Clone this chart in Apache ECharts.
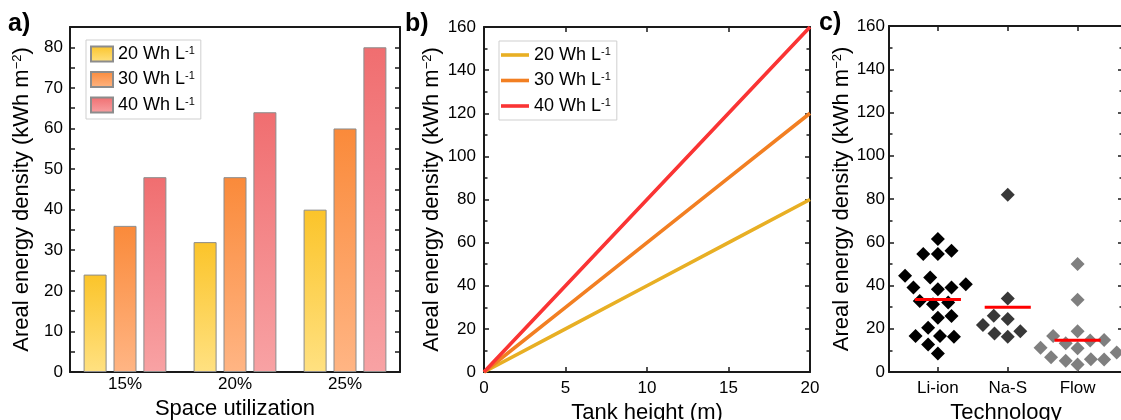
<!DOCTYPE html>
<html><head><meta charset="utf-8">
<script src="https://cdn.jsdelivr.net/npm/echarts@6/dist/echarts.min.js"></script>
<style>html,body{margin:0;padding:0;background:#fff}#c{width:1121px;height:420px}</style>
</head><body><div id="c"></div>
<script>
// ---------- data ----------
// panel a
const spaceUtil = ['15%', '20%', '25%'];
const densityNames = ['20 Wh L-1', '30 Wh L-1', '40 Wh L-1'];
const bar20 = [24, 32, 40];
const bar30 = [36, 48, 60];
const bar40 = [48, 64, 80];
// panel b
const tankHeight = [0, 5, 10, 15, 20];
const line20 = [0, 20, 40, 60, 80];
const line30 = [0, 30, 60, 90, 120];
const line40 = [0, 40, 80, 120, 160];
// panel c (x = category index + swarm offset)
const techCats = ['Li-ion', 'Na-S', 'Flow'];
const liIonX = [1.00, 0.79, 1.00, 1.195, 0.53, 0.89, 0.65, 1.00, 1.195, 1.40, 0.74, 0.93, 1.147, 1.00, 1.195, 0.86, 0.68, 1.03, 1.23, 0.86, 1.00];
const liIonY = [61.5, 54.6, 54.6, 56.1, 44.5, 43.7, 39.1, 38.3, 39.1, 40.6, 32.8, 31.3, 32.1, 25.1, 25.9, 20.5, 16.6, 16.6, 16.3, 12.7, 8.5];
const naSX = [2.00, 2.00, 1.80, 2.00, 1.645, 1.81, 2.00, 2.18];
const naSY = [82, 34, 26, 24.5, 21.7, 17.8, 16.3, 18.9];
const flowX = [3.00, 3.00, 3.00, 2.65, 2.83, 3.18, 3.38, 2.47, 3.00, 3.56, 2.62, 2.83, 3.19, 3.38, 3.00];
const flowY = [50, 33.4, 18.9, 16.6, 13.3, 14.6, 14.8, 11.2, 11.0, 9.0, 6.8, 5.2, 5.9, 5.8, 3.5];
const techMeans = [33.5, 30, 14.7];
const yTicksA = [0, 10, 20, 30, 40, 50, 60, 70, 80];

// ---------- styles ----------
const FONT = 'Liberation Sans, Arial, Helvetica, sans-serif';
const AX = '#1a1a1a';
const supRich = { s: { fontSize: 11, verticalAlign: 'top', fontFamily: FONT, color: '#000', lineHeight: 11 } };
const nameRich = { s: { fontSize: 13, verticalAlign: 'top', fontFamily: FONT, color: '#000', lineHeight: 13 } };
function supName(n) { return n.replace(/L-1$/, 'L{s|-1}'); }
const yName = 'Areal energy density (kWh m{s|\u22122})';

function grad(top, bottom) {
  return new echarts.graphic.LinearGradient(0, 0, 0, 1, [{ offset: 0, color: top }, { offset: 1, color: bottom }]);
}
const lineAx = { show: true, onZero: false, lineStyle: { color: AX, width: 2 } };
const tickIn = (len) => ({ show: true, inside: true, length: len, lineStyle: { color: AX, width: 1.5 } });
const minorIn = { show: true, splitNumber: 2, length: 3.5, lineStyle: { color: AX, width: 1.5 } };
const lbl = (margin) => ({ color: '#000', fontSize: 17, fontFamily: FONT, margin: margin });
const nameStyle = { color: '#000', fontSize: 22, fontFamily: FONT, rich: nameRich };
const lineColors = ['#e8af24', '#f27f22', '#fa3434'];

const option = {
  animation: false,
  backgroundColor: '#fff',
  textStyle: { fontFamily: FONT },
  grid: [
    { left: 70, top: 27, width: 330, height: 345, outerBoundsMode: 'none', containLabel: false },
    { left: 484, top: 27, width: 326, height: 345, outerBoundsMode: 'none', containLabel: false },
    { left: 889, top: 26, width: 234, height: 346, outerBoundsMode: 'none', containLabel: false }
  ],
  legend: [
    {
      left: 86, top: 40, orient: 'vertical', itemWidth: 22, itemHeight: 15, itemGap: 7.5,
      padding: [5, 6, 5, 4], borderColor: '#cfcfcf', borderWidth: 1, icon: 'rect',
      data: densityNames.map(n => ({ name: n })),
      formatter: supName,
      textStyle: { color: '#000', fontSize: 18, fontFamily: FONT, rich: supRich },
      selectedMode: false
    },
    {
      left: 499, top: 41, orient: 'vertical', itemWidth: 28, itemHeight: 3.6, itemGap: 7.5,
      padding: [5, 6, 5, 2], borderColor: '#cfcfcf', borderWidth: 1, icon: 'rect',
      data: densityNames.map((n, i) => ({ name: n + ' ', itemStyle: { color: lineColors[i], borderWidth: 0 } })),
      formatter: (n) => supName(n.trim()),
      textStyle: { color: '#000', fontSize: 18, fontFamily: FONT, rich: supRich },
      selectedMode: false
    }
  ],
  xAxis: [
    { gridIndex: 0, type: 'category', data: spaceUtil, position: 'bottom', axisLine: lineAx,
      axisTick: { show: false }, axisLabel: lbl(4), splitLine: { show: false },
      name: 'Space utilization', nameLocation: 'middle', nameGap: 19, nameTextStyle: nameStyle },
    { gridIndex: 0, type: 'category', data: spaceUtil, position: 'top', axisLine: lineAx,
      axisTick: { show: false }, axisLabel: { show: false }, splitLine: { show: false } },
    { gridIndex: 1, type: 'value', min: 0, max: 20, interval: 5, position: 'bottom', axisLine: lineAx,
      axisTick: tickIn(5), axisLabel: lbl(8), splitLine: { show: false },
      name: 'Tank height (m)', nameLocation: 'middle', nameGap: 28, nameTextStyle: nameStyle },
    { gridIndex: 1, type: 'value', min: 0, max: 20, interval: 5, position: 'top', axisLine: lineAx,
      axisTick: tickIn(5), axisLabel: { show: false }, splitLine: { show: false } },
    { gridIndex: 2, type: 'value', min: 0.3, max: 3.65, position: 'bottom', axisLine: lineAx,
      axisTick: Object.assign(tickIn(5), { customValues: [1, 2, 3] }),
      axisLabel: Object.assign(lbl(8), { customValues: [1, 2, 3], formatter: (v) => techCats[Math.round(v) - 1] || '' }),
      splitLine: { show: false },
      name: 'Technology', nameLocation: 'middle', nameGap: 27, nameTextStyle: nameStyle },
    { gridIndex: 2, type: 'value', min: 0.3, max: 3.65, position: 'top', axisLine: lineAx,
      axisTick: Object.assign(tickIn(5), { customValues: [1, 2, 3] }),
      axisLabel: { show: false }, splitLine: { show: false } }
  ],
  yAxis: [
    { gridIndex: 0, type: 'value', min: 0, max: 85, interval: 5, position: 'left', axisLine: lineAx,
      axisTick: tickIn(5), splitLine: { show: false },
      axisLabel: Object.assign(lbl(7), { formatter: (v) => (yTicksA.indexOf(v) >= 0 ? String(v) : '') }),
      name: yName, nameLocation: 'middle', nameGap: 37, nameTextStyle: nameStyle },
    { gridIndex: 0, type: 'value', min: 0, max: 85, interval: 5, position: 'right', axisLine: lineAx,
      axisTick: tickIn(5), splitLine: { show: false }, axisLabel: { show: false } },
    { gridIndex: 1, type: 'value', min: 0, max: 160, interval: 20, position: 'left', axisLine: lineAx,
      axisTick: tickIn(5), minorTick: minorIn, splitLine: { show: false }, axisLabel: lbl(8),
      name: yName, nameLocation: 'middle', nameGap: 41, nameTextStyle: nameStyle },
    { gridIndex: 1, type: 'value', min: 0, max: 160, interval: 20, position: 'right', axisLine: lineAx,
      axisTick: tickIn(5), minorTick: minorIn, splitLine: { show: false }, axisLabel: { show: false } },
    { gridIndex: 2, type: 'value', min: 0, max: 160, interval: 20, position: 'left', axisLine: lineAx,
      axisTick: tickIn(5), minorTick: minorIn, splitLine: { show: false }, axisLabel: lbl(4),
      name: yName, nameLocation: 'middle', nameGap: 31, nameTextStyle: nameStyle },
    { gridIndex: 2, type: 'value', min: 0, max: 160, interval: 20, position: 'right', axisLine: lineAx,
      axisTick: tickIn(5), minorTick: minorIn, splitLine: { show: false }, axisLabel: { show: false } }
  ],
  graphic: [
    { type: 'text', left: 8, top: 12, style: { text: 'a)', font: 'bold 25px ' + FONT, fill: '#000' } },
    { type: 'text', left: 405, top: 12, style: { text: 'b)', font: 'bold 25px ' + FONT, fill: '#000' } },
    { type: 'text', left: 819, top: 11, style: { text: 'c)', font: 'bold 25px ' + FONT, fill: '#000' } }
  ],
  series: [
    { name: densityNames[0], type: 'bar', xAxisIndex: 0, yAxisIndex: 0, data: bar20, barWidth: 23, barGap: '30%',
      itemStyle: { color: grad('#fbc42a', '#ffe181'), borderColor: '#8c8c8c', borderWidth: 1 } },
    { name: densityNames[1], type: 'bar', xAxisIndex: 0, yAxisIndex: 0, data: bar30, barWidth: 23, barGap: '30%',
      itemStyle: { color: grad('#fa8a3a', '#ffb584'), borderColor: '#8c8c8c', borderWidth: 1 } },
    { name: densityNames[2], type: 'bar', xAxisIndex: 0, yAxisIndex: 0, data: bar40, barWidth: 23, barGap: '30%',
      itemStyle: { color: grad('#f06e70', '#f8a2a4'), borderColor: '#8c8c8c', borderWidth: 1 } },

    { name: densityNames[0] + ' ', type: 'line', xAxisIndex: 2, yAxisIndex: 2, symbol: 'none',
      data: tankHeight.map((h, i) => [h, line20[i]]), lineStyle: { color: lineColors[0], width: 3.6 }, itemStyle: { color: lineColors[0] } },
    { name: densityNames[1] + ' ', type: 'line', xAxisIndex: 2, yAxisIndex: 2, symbol: 'none',
      data: tankHeight.map((h, i) => [h, line30[i]]), lineStyle: { color: lineColors[1], width: 3.6 }, itemStyle: { color: lineColors[1] } },
    { name: densityNames[2] + ' ', type: 'line', xAxisIndex: 2, yAxisIndex: 2, symbol: 'none',
      data: tankHeight.map((h, i) => [h, line40[i]]), lineStyle: { color: lineColors[2], width: 3.6 }, itemStyle: { color: lineColors[2] } },

    { name: 'Li-ion', type: 'scatter', xAxisIndex: 4, yAxisIndex: 4, symbol: 'diamond', symbolSize: 14,
      data: liIonX.map((x, i) => [x, liIonY[i]]), itemStyle: { color: '#000', opacity: 1 } },
    { name: 'Na-S', type: 'scatter', xAxisIndex: 4, yAxisIndex: 4, symbol: 'diamond', symbolSize: 14,
      data: naSX.map((x, i) => [x, naSY[i]]), itemStyle: { color: '#383838', opacity: 1 } },
    { name: 'Flow', type: 'scatter', xAxisIndex: 4, yAxisIndex: 4, symbol: 'diamond', symbolSize: 14,
      data: flowX.map((x, i) => [x, flowY[i]]), itemStyle: { color: '#7f7f7f', opacity: 1 } }
  ].concat(techMeans.map((m, i) => ({
    name: 'mean ' + techCats[i], type: 'line', xAxisIndex: 4, yAxisIndex: 4, symbol: 'none', z: 5,
    data: [[i + 1 - 0.33, m], [i + 1 + 0.33, m]], lineStyle: { color: '#ff0000', width: 3 }
  })))
};

const chart = echarts.init(document.getElementById('c'), null, { renderer: 'canvas' });
chart.setOption(option);
</script></body></html>
